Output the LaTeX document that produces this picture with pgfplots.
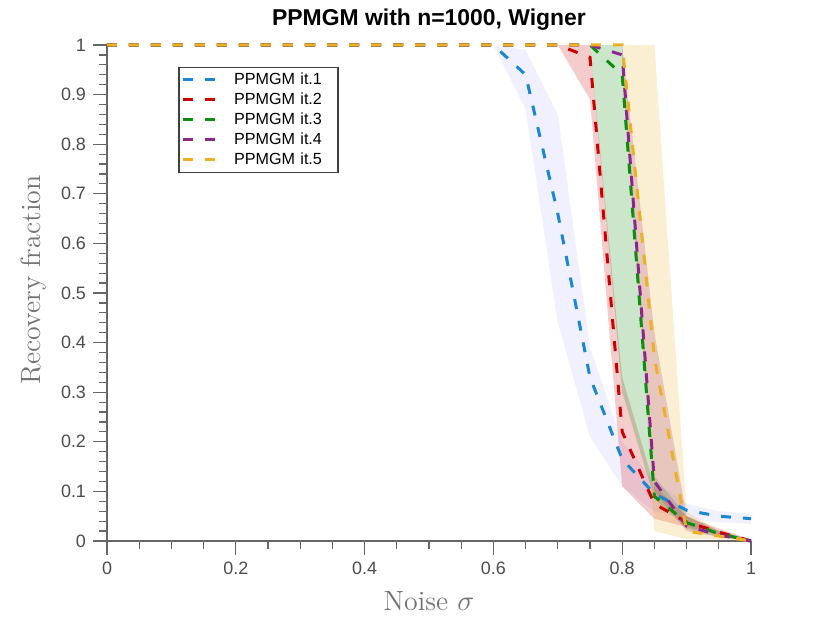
\documentclass[border=0pt]{standalone}
\usepackage{fontspec}
\usepackage{pgfplots}
\pgfplotsset{compat=1.18}
\newfontfamily\arial{Liberation Sans}
\definecolor{c1}{rgb}{0.10,0.53,0.82}
\definecolor{c2}{rgb}{0.80,0.00,0.00}
\definecolor{c3}{rgb}{0.05,0.55,0.05}
\definecolor{c4}{rgb}{0.55,0.15,0.55}
\definecolor{c5}{rgb}{0.93,0.69,0.13}
\definecolor{b1}{rgb}{0.60,0.60,1.00}
\definecolor{b2}{rgb}{0.80,0.00,0.00}
\definecolor{b3}{rgb}{0.00,0.50,0.00}
\definecolor{b4}{rgb}{0.50,0.00,0.50}
\definecolor{b5}{rgb}{0.93,0.69,0.13}
\begin{document}
\begin{tikzpicture}
\useasboundingbox (-53.5bp,-41bp) rectangle (361.5bp,270.5bp);
\begin{axis}[
  at={(0,0)}, anchor=south west,
  scale only axis, width=322bp, height=248bp,
  xmin=0, xmax=1, ymin=0, ymax=1,
  clip=false,
  axis x line*=bottom, axis y line*=left,
  axis line style={draw=black!60, line width=0.6bp},
  tick align=outside,
  major tick length=7bp, minor tick length=3.8bp,
  tick style={draw=black!60, line width=0.6bp},
  xtick={0,0.2,0.4,0.6,0.8,1},
  ytick={0,0.1,0.2,0.3,0.4,0.5,0.6,0.7,0.8,0.9,1},
  minor x tick num=3, minor y tick num=4,
  /pgf/number format/assume math mode=true,
  ticklabel style={font=\arial\fontsize{9}{10}\selectfont, text=black!70},
  title={PPMGM with n=1000, Wigner},
  title style={font=\arial\bfseries\fontsize{11.5}{13}\selectfont, at={(axis description cs:0.5,1)}, anchor=base, yshift=4bp},
  xlabel={Noise $\sigma$},
  ylabel={Recovery fraction},
  label style={font=\fontsize{14}{16}\selectfont, text=black!55},
  xlabel style={at={(axis description cs:0.5,-0.121)}, anchor=center},
  ylabel style={at={(axis description cs:-0.114,0.526)}, anchor=center},
  legend style={at={(axis description cs:0.111,0.956)}, anchor=north west,
    draw=black!75, line width=0.6bp, fill=white,
    font=\arial\fontsize{8.1}{9}\selectfont,
    inner xsep=1bp, inner ysep=1.2bp, column sep=8bp,
    nodes={inner xsep=0bp, inner ysep=1.3bp, text height=5.8bp, text depth=1.6bp, text width=51bp, align=left}},
  legend cell align=left,
  legend image code/.code={\draw[#1] (0bp,0bp) -- (17bp,0bp);},
  every axis plot/.append style={line width=1.5bp, dash pattern=on 5bp off 6bp},
]
% ---- bands ----
\addplot[forget plot, draw=none, solid, fill=b1, fill opacity=0.15] coordinates {
 (0.6,1)(0.65,0.99)(0.7,0.86)(0.75,0.39)(0.8,0.2)(0.85,0.12)(0.9,0.075)(0.95,0.06)(1,0.055)
 (1,0.035)(0.95,0.038)(0.9,0.045)(0.85,0.06)(0.8,0.11)(0.75,0.21)(0.7,0.44)(0.65,0.87)(0.6,1)} -- cycle;
\addplot[forget plot, draw=none, solid, fill=b2, fill opacity=0.2] coordinates {
 (0.7,1)(0.75,1)(0.8,0.33)(0.85,0.11)(0.9,0.05)(0.95,0.025)(1,0.003)
 (1,0)(0.95,0.012)(0.9,0.028)(0.85,0.045)(0.8,0.11)(0.75,0.89)(0.7,1)} -- cycle;
\addplot[forget plot, draw=none, solid, fill=b3, fill opacity=0.2] coordinates {
 (0.75,1)(0.8,1)(0.85,0.13)(0.9,0.05)(0.95,0.02)(1,0.003)
 (1,0)(0.95,0.008)(0.9,0.025)(0.85,0.085)(0.8,0.3)(0.75,1)} -- cycle;
\addplot[forget plot, draw=none, solid, fill=b4, fill opacity=0.2] coordinates {
 (0.8,1)(0.85,0.42)(0.9,0.05)(0.95,0.02)(1,0.003)
 (1,0)(0.95,0.008)(0.9,0.02)(0.85,0.1)(0.8,0.95)(0.8,1)} -- cycle;
\addplot[forget plot, draw=none, solid, fill=b5, fill opacity=0.2] coordinates {
 (0.8,1)(0.85,1)(0.9,0.06)(0.95,0.02)(1,0.003)
 (1,0)(0.95,0.003)(0.9,0.004)(0.85,0.02)(0.8,1)} -- cycle;
% ---- mean lines ----
\addplot[c1] coordinates {
 (0,1)(0.05,1)(0.1,1)(0.15,1)(0.2,1)(0.25,1)(0.3,1)(0.35,1)(0.4,1)(0.45,1)(0.5,1)(0.55,1)(0.6,1)
 (0.65,0.94)(0.7,0.66)(0.75,0.33)(0.8,0.165)(0.85,0.095)(0.9,0.062)(0.95,0.05)(1,0.045)};
\addlegendentry{PPMGM it.1}
\addplot[c2] coordinates {
 (0,1)(0.05,1)(0.1,1)(0.15,1)(0.2,1)(0.25,1)(0.3,1)(0.35,1)(0.4,1)(0.45,1)(0.5,1)(0.55,1)(0.6,1)(0.65,1)(0.7,1)
 (0.75,0.975)(0.8,0.22)(0.85,0.075)(0.9,0.038)(0.95,0.018)(1,0)};
\addlegendentry{PPMGM it.2}
\addplot[c3] coordinates {
 (0,1)(0.05,1)(0.1,1)(0.15,1)(0.2,1)(0.25,1)(0.3,1)(0.35,1)(0.4,1)(0.45,1)(0.5,1)(0.55,1)(0.6,1)(0.65,1)(0.7,1)(0.75,1)
 (0.8,0.94)(0.85,0.09)(0.9,0.037)(0.95,0.015)(1,0)};
\addlegendentry{PPMGM it.3}
\addplot[c4] coordinates {
 (0,1)(0.05,1)(0.1,1)(0.15,1)(0.2,1)(0.25,1)(0.3,1)(0.35,1)(0.4,1)(0.45,1)(0.5,1)(0.55,1)(0.6,1)(0.65,1)(0.7,1)(0.75,1)
 (0.8,0.98)(0.85,0.12)(0.9,0.03)(0.95,0.012)(1,0)};
\addlegendentry{PPMGM it.4}
\addplot[c5] coordinates {
 (0,1)(0.05,1)(0.1,1)(0.15,1)(0.2,1)(0.25,1)(0.3,1)(0.35,1)(0.4,1)(0.45,1)(0.5,1)(0.55,1)(0.6,1)(0.65,1)(0.7,1)(0.75,1)(0.8,1)
 (0.85,0.37)(0.9,0.02)(0.95,0.01)(1,0)};
\addlegendentry{PPMGM it.5}
\end{axis}
\end{tikzpicture}
\end{document}
